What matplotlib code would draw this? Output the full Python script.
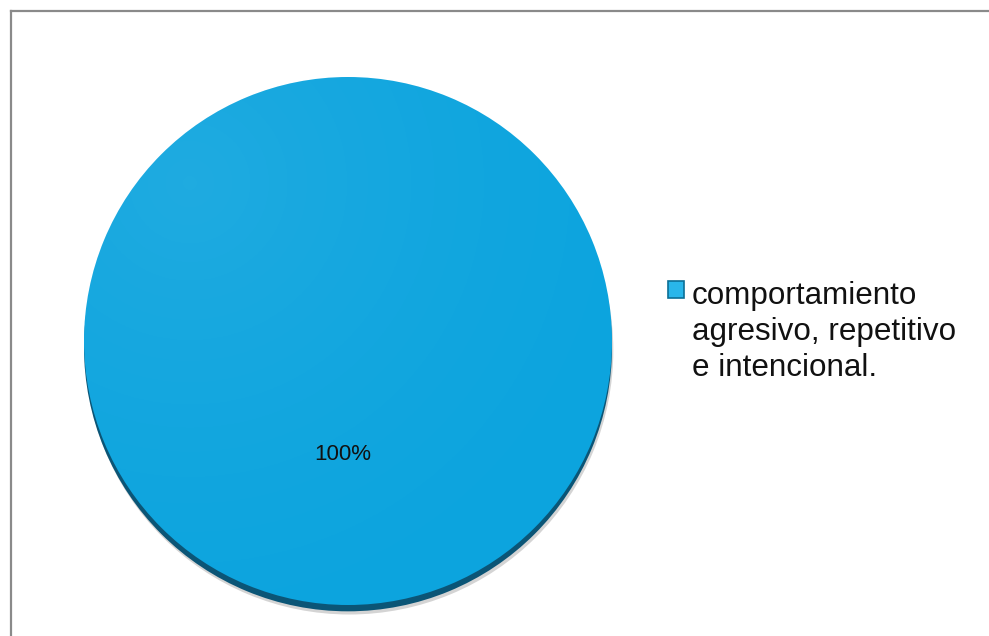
import matplotlib
matplotlib.use("Agg")
import matplotlib.pyplot as plt
import numpy as np
from matplotlib.lines import Line2D
from matplotlib.patches import Rectangle

categories = ["comportamiento\nagresivo, repetitivo\ne intencional."]
values = [100]
colors = ["#0ca4de"]

W, H = 989, 636
fig = plt.figure(figsize=(W / 100, H / 100), dpi=100)
fig.patch.set_facecolor("white")

# frame (only left and top visible)
fig.add_artist(Line2D([10.5 / W, 10.5 / W], [0, 1 - 10.5 / H], transform=fig.transFigure,
                      color="#8a8a8a", lw=1.6))
fig.add_artist(Line2D([10.5 / W, 1], [1 - 10.5 / H, 1 - 10.5 / H], transform=fig.transFigure,
                      color="#8a8a8a", lw=1.6))

cx, cy, r = 348, 341, 264
ax = fig.add_axes([(cx - r) / W, (H - cy - r) / H, 2 * r / W, 2 * r / H])
ax.axis("off")

# soft gray shadow and dark rim
ax.pie(values, radius=1.0, center=(0.005, -0.036), colors=["#d4d4d4"], startangle=90,
       wedgeprops=dict(linewidth=0))
ax.pie(values, radius=1.0, center=(0, -0.024), colors=["#0b5576"], startangle=90,
       wedgeprops=dict(linewidth=0))

wedges, texts, autotexts = ax.pie(values, radius=1.0, colors=colors, startangle=90,
                                  autopct="%1.0f%%", pctdistance=0.43,
                                  wedgeprops=dict(linewidth=0),
                                  textprops=dict(fontsize=16, family="Liberation Sans",
                                                 color="#111111"))
ax.set_xlim(-1, 1)
ax.set_ylim(-1, 1)
ax.set_aspect("equal")

# subtle gradient highlight clipped to the pie
yy, xx = np.mgrid[1:-1:400j, -1:1:400j]
d = np.clip(np.hypot(xx + 0.6, yy - 0.6) / 2.0, 0, 1)
rgba = np.ones((400, 400, 4))
rgba[..., 3] = 0.08 * (1 - d) ** 1.5
im = ax.imshow(rgba, extent=(-1, 1, -1, 1), zorder=wedges[0].get_zorder() + 0.5)
im.set_clip_path(wedges[0])
for t in autotexts:
    t.set_zorder(10)
    t.set_x(t.get_position()[0] - 0.02)

handle = Rectangle((0, 0), 1, 1, facecolor="#29b6ea", edgecolor="#0b6f96", linewidth=1.2)
leg = fig.legend([handle], categories, loc="upper left",
                 bbox_to_anchor=(668 / W, 1 - 281 / H), frameon=False,
                 prop=dict(family="Liberation Sans", size=22.6),
                 handlelength=0.5, handleheight=0.47, handletextpad=0.25,
                 labelspacing=0.2, borderpad=0, borderaxespad=0)
for t in leg.get_texts():
    t.set_linespacing(1.255)
    t.set_color("#111111")
try:
    for col in leg._legend_handle_box.get_children():
        for hp in col.get_children():
            hp.align = "top"
except Exception:
    pass

fig.savefig("out.png", dpi=100, facecolor="white")
